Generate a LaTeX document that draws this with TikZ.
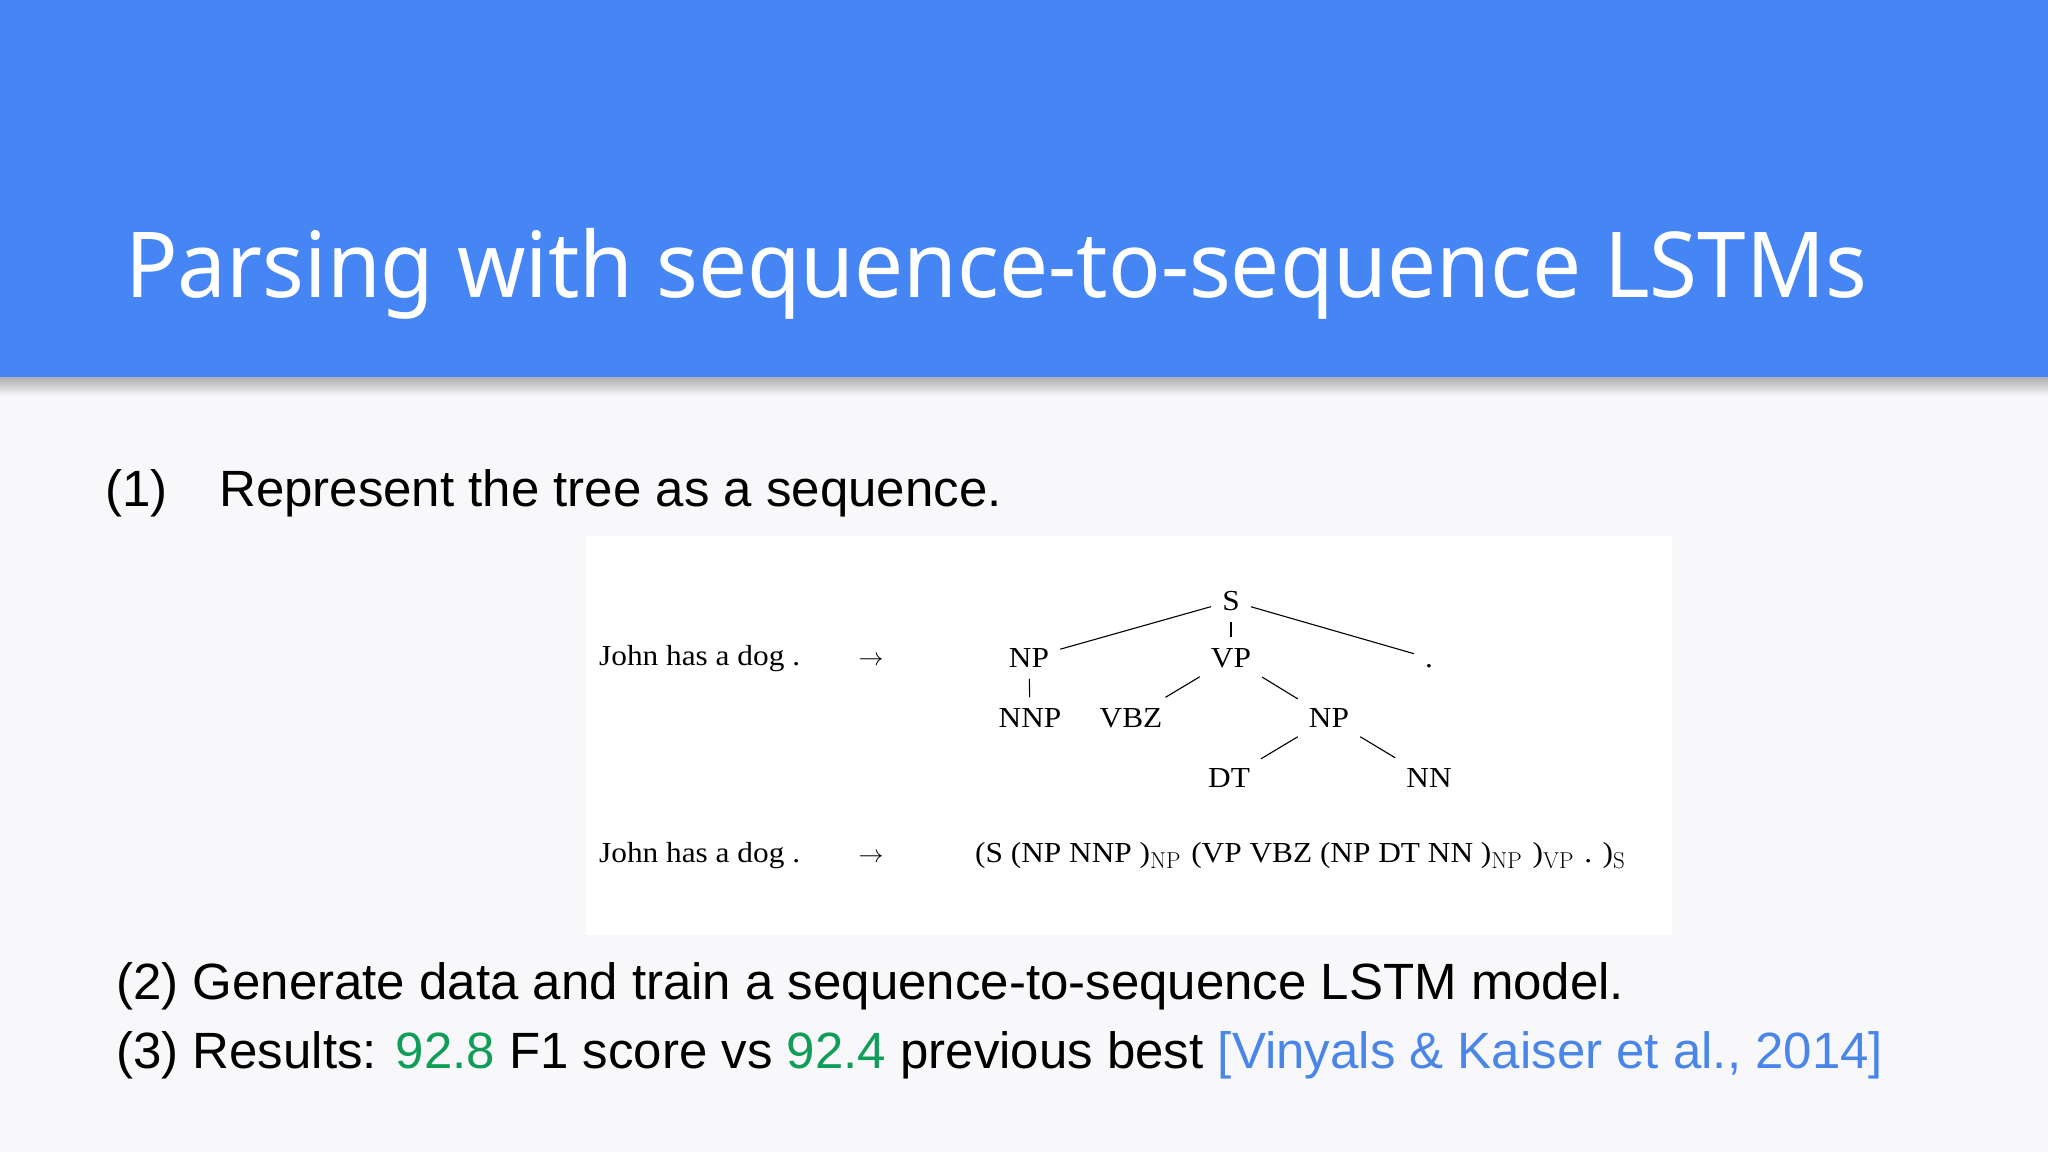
\documentclass[tikz,border=0pt]{standalone}
\usepackage{fontspec}
\newfontfamily\titlefont[FakeStretch=0.958]{Noto Sans}
\newfontfamily\slidefont{Liberation Sans}
\newfontfamily\treefont[FakeStretch=1.08]{Liberation Serif}
\definecolor{headblue}{HTML}{4685F4}
\definecolor{slidebg}{HTML}{F8F8FA}
\definecolor{scoregreen}{HTML}{0F9D58}
\definecolor{citeblue}{HTML}{4A86E8}
\newcommand\tsub[1]{\raisebox{-0.45ex}{\normalfont\fontsize{23}{23}\selectfont #1}\hspace{3pt}}
\tikzset{
  bodyline/.style={anchor=base west, inner sep=0pt, font=\slidefont\fontsize{51}{51}\selectfont},
  rowtext/.style={anchor=base west, inner sep=0pt, font=\treefont\fontsize{29}{29}\selectfont},
  tag/.style={inner sep=11pt, text height=19pt, text depth=0pt, font=\treefont\fontsize{29}{29}\selectfont},
  branch/.style={line width=1.1pt}
}
\begin{document}
\begin{tikzpicture}[x=1pt,y=-1pt]
\useasboundingbox (0,0) rectangle (2048,1152);
% slide background and header
\fill[slidebg] (0,0) rectangle (2048,1152);
\shade[top color=black!32, bottom color=slidebg] (0,377) rectangle (2048,396);
\fill[headblue] (0,0) rectangle (2048,377);
\node[anchor=base west, inner sep=0pt, text=white, font=\titlefont\fontsize{91}{91}\selectfont]
  (title) at (125,297) {Parsing with sequence-to-sequence LSTMs};
% point 1
\node[bodyline] (num1) at (105,506) {(1)};
\node[bodyline] (step1) at (219,506) {Represent the tree as a sequence.};
% white panel with the tree
\fill[white] (586,536) rectangle (1672,935);
\node[rowtext] (sent1) at (599,665) {John has a dog .};
\node[rowtext, anchor=base] (arr1) at (871,665) {$\rightarrow$};
\node[tag] (S) at (1231,601) {S};
\node[tag] (NP) at (1029,658) {NP};
\node[tag] (VP) at (1231,658) {VP};
\node[tag] (dot) at (1429,658) {.};
\node[tag] (NNP) at (1030,718) {NNP};
\node[tag] (VBZ) at (1131,718) {VBZ};
\node[tag] (NPb) at (1329,718) {NP};
\node[tag] (DT) at (1229,778) {DT};
\node[tag] (NN) at (1429,778) {NN};
\draw[branch] (S) -- (NP);
\draw[branch] (S) -- (VP);
\draw[branch] (S) -- (dot);
\draw[branch] (NP) -- (NNP);
\draw[branch] (VP) -- (VBZ);
\draw[branch] (VP) -- (NPb);
\draw[branch] (NPb) -- (DT);
\draw[branch] (NPb) -- (NN);
\node[rowtext] (sent2) at (599,862) {John has a dog .};
\node[rowtext, anchor=base] (arr2) at (871,862) {$\rightarrow$};
\node[rowtext] (seq) at (975,862)
  {(S (NP NNP )\tsub{NP} (VP VBZ (NP DT NN )\tsub{NP} )\tsub{VP} . )\tsub{S}};
% points 2 and 3
\node[bodyline] (step2) at (116,999) {(2) Generate data and train a sequence-to-sequence LSTM model.};
\node[bodyline] (step3) at (116,1068) {(3) Results: \textcolor{scoregreen}{92.8} F1 score vs
  \textcolor{scoregreen}{92.4} previous best \textcolor{citeblue}{[Vinyals \& Kaiser et al., 2014]}};
\end{tikzpicture}
\end{document}
